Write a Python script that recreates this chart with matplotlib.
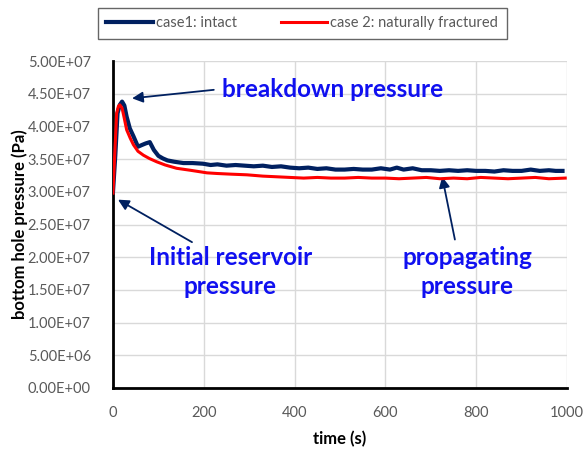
import matplotlib.pyplot as plt
from matplotlib.ticker import FuncFormatter

# ---- data ----
t1 = [0, 5, 10, 15, 20, 25, 30, 37, 45, 55, 65, 72, 81, 90, 100, 110, 120, 135, 155, 175, 198,
      215, 230, 250, 270, 290, 310, 330, 350, 370, 390, 410, 430, 450, 470, 490, 510, 530,
      550, 570, 590, 610, 625, 640, 660, 680, 700, 720, 740, 760, 780, 800, 820, 840,
      860, 880, 900, 920, 940, 960, 975, 990]
p1 = [3.00, 3.55, 4.20, 4.33, 4.38, 4.32, 4.15, 3.97, 3.85, 3.69, 3.72, 3.74, 3.76, 3.64,
      3.55, 3.51, 3.48, 3.46, 3.44, 3.44, 3.43, 3.41, 3.42, 3.40, 3.41, 3.40, 3.39, 3.40,
      3.38, 3.39, 3.37, 3.36, 3.37, 3.35, 3.36, 3.34, 3.34, 3.35, 3.34, 3.34, 3.36, 3.34,
      3.37, 3.34, 3.36, 3.33, 3.33, 3.32, 3.33, 3.32, 3.33, 3.32, 3.32, 3.31, 3.33, 3.32,
      3.32, 3.34, 3.32, 3.33, 3.32, 3.32]
p1 = [v * 1e7 for v in p1]

t2 = [0, 4, 8, 12, 15, 20, 25, 30, 38, 45, 55, 67, 80, 96, 115, 140, 170, 207, 230,
      260, 295, 330, 360, 390, 420, 450, 480, 510, 540, 570, 600, 630, 660, 690, 720,
      750, 780, 810, 840, 870, 900, 930, 960, 996]
p2 = [2.98, 3.60, 4.20, 4.31, 4.33, 4.28, 4.12, 3.95, 3.82, 3.72, 3.62, 3.56, 3.51, 3.46,
      3.41, 3.36, 3.33, 3.29, 3.28, 3.27, 3.26, 3.24, 3.23, 3.22, 3.21, 3.22, 3.21, 3.21,
      3.22, 3.21, 3.21, 3.20, 3.21, 3.22, 3.20, 3.21, 3.20, 3.22, 3.21, 3.20, 3.21, 3.22,
      3.20, 3.21]
p2 = [v * 1e7 for v in p2]

navy = '#002060'
red = '#ff0000'
blue_txt = '#1010f0'
gray = '#595959'

plt.rcParams['font.family'] = ['Lato', 'DejaVu Sans']

fig = plt.figure(figsize=(5.87, 4.49), dpi=100)
ax = fig.add_axes([0.1925, 0.136, 0.7735, 0.728])

ax.plot(t1, p1, color=navy, lw=3.0, label='case1: intact', zorder=3)
ax.plot(t2, p2, color=red, lw=2.2, label='case 2: naturally fractured', zorder=4)

ax.set_xlim(0, 1000)
ax.set_ylim(0, 5e7)
ax.set_xticks(range(0, 1001, 200))
ax.set_yticks([i * 5e6 for i in range(11)])
ax.yaxis.set_major_formatter(FuncFormatter(lambda v, p: f'{v:.2E}'))
ax.tick_params(length=0, labelsize=10.5, labelcolor=gray)
ax.tick_params(axis='y', pad=16)
ax.tick_params(axis='x', pad=13)
ax.grid(True, color='#d9d9d9', lw=1)
ax.set_axisbelow(True)
for s in ['top', 'right']:
    ax.spines[s].set_visible(False)
for s in ['left', 'bottom']:
    ax.spines[s].set_linewidth(2)
    ax.spines[s].set_color('black')

ax.set_xlabel('time (s)', fontsize=12, fontweight='bold', labelpad=8)
ax.set_ylabel('bottom hole pressure (Pa)', fontsize=12, fontweight='bold', labelpad=0)

leg = fig.legend(loc='center', bbox_to_anchor=(0.515, 0.948), ncol=2, fontsize=10.5,
                 frameon=True, fancybox=False, edgecolor='#404040', handlelength=3.2,
                 handletextpad=0.2, columnspacing=3.0, borderpad=0.6)
leg.get_frame().set_linewidth(1.0)
for txt in leg.get_texts():
    txt.set_color(gray)

arr = dict(arrowstyle='-|>', color=navy, lw=1.3, mutation_scale=16, shrinkA=0, shrinkB=0)
tfont = dict(fontsize=17.5, fontweight='bold', color=blue_txt, linespacing=1.3)

ax.annotate('', xy=(42, 4.43e7), xytext=(222, 4.56e7), arrowprops=arr)
ax.text(240, 4.56e7, 'breakdown pressure', ha='left', va='center', **tfont)

ax.annotate('', xy=(11, 2.88e7), xytext=(174, 2.23e7), arrowprops=arr)
ax.text(258, 1.77e7, 'Initial reservoir\npressure', ha='center', va='center', **tfont)

ax.annotate('', xy=(725, 3.23e7), xytext=(753, 2.27e7), arrowprops=arr)
ax.text(780, 1.77e7, 'propagating\npressure', ha='center', va='center', **tfont)

fig.savefig('out.png', dpi=100)
